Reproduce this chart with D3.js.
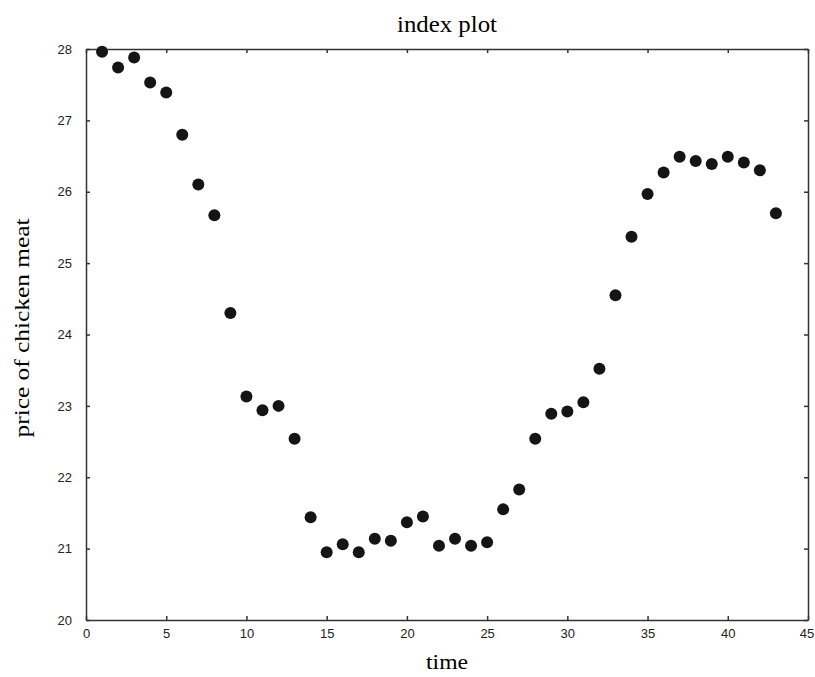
<!DOCTYPE html>
<html>
<head>
<meta charset="utf-8">
<script src="https://cdn.jsdelivr.net/npm/d3@7"></script>
<style>
body{margin:0;background:#fff;}
</style>
</head>
<body>
<div class="chart"></div>
<script>
// index plot of chicken prices
var time=d3.range(1,44);
var price=[27.96,27.74,27.88,27.53,27.39,26.80,26.10,25.67,24.30,23.13,
	22.94,23.00,22.54,21.44,20.95,21.06,20.95,21.14,21.11,21.37,
	21.45,21.04,21.14,21.04,21.09,21.55,21.83,22.54,22.89,22.92,
	23.05,23.52,24.55,25.37,25.97,26.27,26.49,26.43,26.39,26.49,
	26.41,26.30,25.70];
var xTicks=[0,5,10,15,20,25,30,35,40,45];
var yTicks=[20,21,22,23,24,25,26,27,28];

var width=815;
var height=677;
var pLeft=86,pRight=808,pTop=49,pBottom=620;

var svg=d3.select('div.chart')
		.append('svg')
		.attr('width',width)
		.attr('height',height);

var xScale=d3.scaleLinear().domain([0,45]).range([pLeft,pRight]);
var yScale=d3.scaleLinear().domain([20,28]).range([pBottom,pTop]);

var tickFont='"Liberation Sans", Arial, sans-serif';
var serif='"Liberation Serif", "Times New Roman", serif';

// bottom & top axes, ticks pointing inward
svg.append('g')
	.attr('transform','translate(0,'+pBottom+')')
	.call(d3.axisBottom(xScale).tickValues(xTicks).tickSizeInner(-4).tickSizeOuter(0).tickPadding(9))
	.call(g=>g.selectAll('text').attr('font-family',tickFont).attr('font-size','13px').attr('fill','#222'))
	.call(g=>g.selectAll('.tick:last-of-type text').attr('dx','-1.5'));
svg.append('g')
	.attr('transform','translate(0,'+pTop+')')
	.call(d3.axisTop(xScale).tickValues(xTicks).tickSizeInner(-4).tickSizeOuter(0).tickFormat(''));
svg.append('g')
	.attr('transform','translate('+pLeft+',0)')
	.call(d3.axisLeft(yScale).tickValues(yTicks).tickSizeInner(-4).tickSizeOuter(0).tickPadding(14))
	.call(g=>g.selectAll('text').attr('font-family',tickFont).attr('font-size','13px').attr('fill','#222'));
svg.append('g')
	.attr('transform','translate('+pRight+',0)')
	.call(d3.axisRight(yScale).tickValues(yTicks).tickSizeInner(-4).tickSizeOuter(0).tickFormat(''));

svg.selectAll('.domain').attr('stroke','#333').attr('stroke-width',1.5);
svg.selectAll('.tick line').attr('stroke','#333').attr('stroke-width',1.5);

svg.selectAll('circle.pt')
	.data(time)
	.enter()
	.append('circle')
	.attr('class','pt')
	.attr('cx',(d)=>xScale(d))
	.attr('cy',(d,i)=>yScale(price[i]))
	.attr('r',6)
	.attr('fill','#151515');

svg.append('text')
	.attr('x',(pLeft+pRight)/2)
	.attr('y',32)
	.attr('text-anchor','middle')
	.attr('font-family',serif)
	.attr('font-size','24px')
	.attr('textLength',100)
	.attr('lengthAdjust','spacingAndGlyphs')
	.text('index plot');

svg.append('text')
	.attr('x',(pLeft+pRight)/2)
	.attr('y',669)
	.attr('text-anchor','middle')
	.attr('font-family',serif)
	.attr('font-size','21px')
	.attr('textLength',42)
	.attr('lengthAdjust','spacingAndGlyphs')
	.text('time');

svg.append('text')
	.attr('transform','translate(29,328) rotate(-90)')
	.attr('text-anchor','middle')
	.attr('font-family',serif)
	.attr('font-size','21px')
	.attr('textLength',219)
	.attr('lengthAdjust','spacingAndGlyphs')
	.text('price of chicken meat');
</script>
</body>
</html>
